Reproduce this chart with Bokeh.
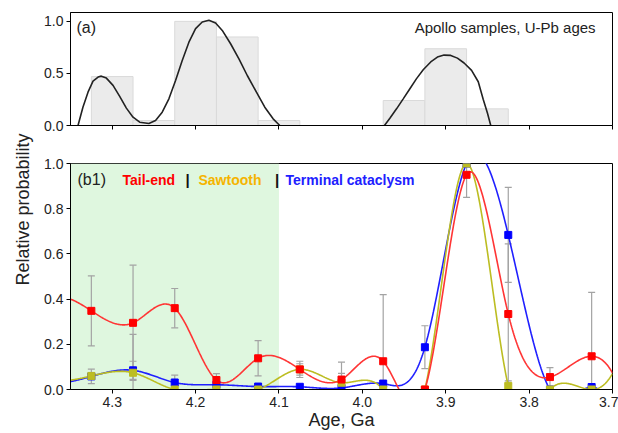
import numpy as np
from bokeh.plotting import figure
from bokeh.layouts import row, column
from bokeh.models import (Range1d, FixedTicker, PrintfTickFormatter, CustomJSTickFormatter,
                          BoxAnnotation, Whisker, TeeHead, ColumnDataSource, Label)
from bokeh.embed import file_html
from bokeh.resources import INLINE

# ---------------- data ----------------
# (a) Apollo samples, U-Pb ages histogram
hist_centers = [4.30, 4.25, 4.20, 4.15, 4.10, 3.95, 3.90, 3.85]
hist_heights = [0.47, 0.048, 1.0, 0.85, 0.048, 0.24, 0.737, 0.16]
hist_width = 0.05

# (a) density curve
curve1_age = [4.341, 4.3351, 4.3290, 4.3230, 4.3169, 4.313, 4.307, 4.299, 4.291, 4.283,
              4.275, 4.267, 4.256, 4.248, 4.240, 4.232, 4.224, 4.216, 4.208, 4.200,
              4.192, 4.184, 4.176, 4.168, 4.158, 4.148, 4.138, 4.127, 4.117, 4.107, 4.099]
curve1_prob = [0.0, 0.176, 0.32, 0.426, 0.465, 0.474, 0.455, 0.385, 0.28, 0.167,
               0.08, 0.032, 0.019, 0.048, 0.128, 0.256, 0.433, 0.625, 0.80, 0.93,
               0.994, 1.01, 0.984, 0.913, 0.785, 0.64, 0.48, 0.32, 0.176, 0.064, 0.0]
curve2_age = [3.9735, 3.967, 3.959, 3.951, 3.943, 3.935, 3.927, 3.918, 3.910, 3.902,
              3.894, 3.886, 3.878, 3.869, 3.861, 3.855, 3.850, 3.846]
curve2_prob = [0.0, 0.07, 0.16, 0.256, 0.353, 0.45, 0.535, 0.61, 0.657, 0.676,
               0.673, 0.647, 0.6, 0.53, 0.42, 0.25, 0.12, 0.0]

# (b1) model relative probabilities
ages = [4.325, 4.275, 4.225, 4.175, 4.125, 4.075, 4.025, 3.975, 3.925, 3.875, 3.825, 3.775, 3.725]
tail_end = [0.348, 0.295, 0.36, 0.042, 0.138, 0.089, 0.044, 0.125, 0.0, 0.95, 0.334, 0.055, 0.147]
tail_end_err = [0.155, 0.255, 0.087, 0.028, 0.078, 0.036, 0.077, 0.295, 0.0, 0.10, 0.31, 0.042, 0.283]
sawtooth = [0.06, 0.074, 0.0, 0.0, 0.0, 0.089, 0.03, 0.0, 0.0, 1.0, 0.016, 0.0, 0.0]
sawtooth_err = [0.0, 0.17, 0.0, 0.0, 0.0, 0.025, 0.041, 0.0, 0.0, 0.0, 0.022, 0.0, 0.0]
terminal = [0.058, 0.085, 0.031, 0.021, 0.013, 0.012, 0.007, 0.026, 0.187, 1.0, 0.684, 0.0, 0.011]
terminal_err = [0.032, 0.04, 0.033, 0.0, 0.0, 0.0, 0.0, 0.014, 0.095, 0.0, 0.21, 0.0, 0.0]

x_ticks = [4.3, 4.2, 4.1, 4.0, 3.9, 3.8, 3.7]
top_y_ticks = [0.0, 0.5, 1.0]
bottom_y_ticks = [0.0, 0.2, 0.4, 0.6, 0.8, 1.0]
shade_range = (4.35, 4.1)

FONT = "Liberation Sans"


def smooth_spline(xs, ys, xq):
    """Cubic spline used to render the smooth connecting lines
    (zero slope at the young end, natural at the old end)."""
    xs = np.asarray(xs, float)
    ys = np.asarray(ys, float)
    order = np.argsort(xs)
    xs, ys = xs[order], ys[order]
    n = len(xs)
    h = np.diff(xs)
    A = np.zeros((n, n))
    b = np.zeros(n)
    A[0, 0], A[0, 1] = 2 * h[0], h[0]
    b[0] = 6 * ((ys[1] - ys[0]) / h[0])
    A[-1, -1] = 1.0
    for i in range(1, n - 1):
        A[i, i - 1] = h[i - 1]
        A[i, i] = 2 * (h[i - 1] + h[i])
        A[i, i + 1] = h[i]
        b[i] = 6 * ((ys[i + 1] - ys[i]) / h[i] - (ys[i] - ys[i - 1]) / h[i - 1])
    M = np.linalg.solve(A, b)
    idx = np.clip(np.searchsorted(xs, xq) - 1, 0, n - 2)
    x0, x1 = xs[idx], xs[idx + 1]
    hh = x1 - x0
    t0, t1 = x1 - xq, xq - x0
    return (M[idx] * t0 ** 3 / (6 * hh) + M[idx + 1] * t1 ** 3 / (6 * hh)
            + (ys[idx] / hh - M[idx] * hh / 6) * t0 + (ys[idx + 1] / hh - M[idx + 1] * hh / 6) * t1)


def style(p, yticks, xlabels=True):
    p.grid.visible = False
    p.outline_line_color = "black"
    p.outline_line_width = 1
    p.background_fill_color = "white"
    for ax in (p.xaxis[0], p.yaxis[0]):
        ax.axis_line_color = "black"
        ax.major_tick_line_color = "black"
        ax.major_tick_in = 0
        ax.major_tick_out = 4
        ax.minor_tick_line_color = None
        ax.major_label_text_font = FONT
        ax.major_label_text_font_size = "14px"
        ax.major_label_text_color = "#222222"
        ax.axis_label_text_font = FONT
        ax.axis_label_text_font_style = "normal"
        ax.axis_label_text_font_size = "18px"
        ax.axis_label_text_color = "#222222"
    p.xaxis.ticker = FixedTicker(ticks=x_ticks)
    p.yaxis.ticker = FixedTicker(ticks=yticks)
    p.yaxis.formatter = PrintfTickFormatter(format="%.1f")
    p.yaxis.major_label_standoff = 3
    p.xaxis.major_label_standoff = 3
    if xlabels:
        p.xaxis.formatter = PrintfTickFormatter(format="%.1f")
    else:
        p.xaxis.formatter = CustomJSTickFormatter(code="return ''")


xr = Range1d(4.35, 3.7)

# ---------------- panel (a) ----------------
p1 = figure(width=584, height=151, x_range=xr, y_range=Range1d(0, 1.085),
            toolbar_location=None, output_backend="svg",
            min_border_left=36, min_border_right=6, min_border_top=12, min_border_bottom=26)
p1.vbar(x=hist_centers, width=hist_width, top=hist_heights, bottom=0,
        fill_color="#ebebeb", line_color="#dadada", line_width=1)
p1.line(curve1_age, curve1_prob, line_color="#222222", line_width=1.6)
p1.line(curve2_age, curve2_prob, line_color="#222222", line_width=1.6)
style(p1, top_y_ticks, xlabels=False)
p1.add_layout(Label(x=4.3428, y=0.945, text="(a)", text_font=FONT, text_font_size="16px",
                    text_color="#222222", text_baseline="middle", text_align="left"))
p1.add_layout(Label(x=3.7203, y=0.945, text="Apollo samples, U-Pb ages", text_font=FONT,
                    text_font_size="15px", text_color="#222222", text_baseline="middle",
                    text_align="right"))

# ---------------- panel (b1) ----------------
p2 = figure(width=584, height=282, x_range=xr, y_range=Range1d(0, 1.0),
            toolbar_location=None, output_backend="svg",
            min_border_left=36, min_border_right=6, min_border_top=12, min_border_bottom=44)
p2.add_layout(BoxAnnotation(left=shade_range[1], right=shade_range[0], fill_color="#dff7df",
                            fill_alpha=1.0, line_alpha=0, level="underlay"))

ages_arr = np.asarray(ages)
for vals, errs in ((tail_end, tail_end_err), (terminal, terminal_err), (sawtooth, sawtooth_err)):
    v = np.asarray(vals)
    e = np.asarray(errs)
    m = e > 0
    src = ColumnDataSource(dict(base=ages_arr[m], upper=np.clip(v[m] + e[m], 0, 1),
                                lower=np.clip(v[m] - e[m], 0, 1)))
    p2.add_layout(Whisker(base="base", upper="upper", lower="lower", source=src,
                          line_color="#a3a3a3", line_width=1.2, level="underlay",
                          upper_head=TeeHead(size=7, line_color="#a3a3a3", line_width=1.2),
                          lower_head=TeeHead(size=7, line_color="#a3a3a3", line_width=1.2)))

grid_x = np.linspace(3.7, 4.35, 700)
series = [
    (terminal, "#2020ff", "#0000ff"),
    (sawtooth, "#bcbd22", "#bcbd22"),
    (tail_end, "#ff3535", "#ff0000"),
]
for vals, lc, mc in series:
    p2.line(grid_x, smooth_spline(ages, vals, grid_x), line_color=lc, line_width=1.6)
for vals, lc, mc in series:
    p2.scatter(ages, vals, marker="square", size=7, fill_color=mc, line_color=mc)

style(p2, bottom_y_ticks, xlabels=True)
p2.xaxis.axis_label = "Age, Ga"
p2.xaxis.axis_label_standoff = 0

legend_items = [
    ("(b1)", 4.3416, "#222222", "normal", "16px"),
    ("Tail-end", 4.2876, "#ff0000", "bold", "14px"),
    ("|", 4.2121, "#111111", "bold", "15px"),
    ("Sawtooth", 4.1965, "#f5b400", "bold", "14px"),
    ("|", 4.1047, "#111111", "bold", "15px"),
    ("Terminal cataclysm", 4.0921, "#2020ff", "bold", "14px"),
]
for txt, xx, col, sty, fs in legend_items:
    p2.add_layout(Label(x=xx, y=0.929, text=txt, text_font=FONT, text_font_size=fs,
                        text_font_style=sty, text_color=col, text_baseline="middle",
                        text_align="left"))

# ---------------- shared y label ----------------
lab = figure(width=34, height=433, x_range=Range1d(0, 34), y_range=Range1d(0, 433),
             toolbar_location=None, output_backend="svg", min_border=0,
             x_axis_location=None, y_axis_location=None, outline_line_color=None)
lab.grid.visible = False
lab.add_layout(Label(x=22, y=224, text="Relative probability", angle=np.pi / 2,
                     text_align="center", text_baseline="middle", text_font=FONT,
                     text_font_size="18px", text_color="#222222"))

layout = row(lab, column(p1, p2))
open("out.html", "w").write(file_html(layout, INLINE))
